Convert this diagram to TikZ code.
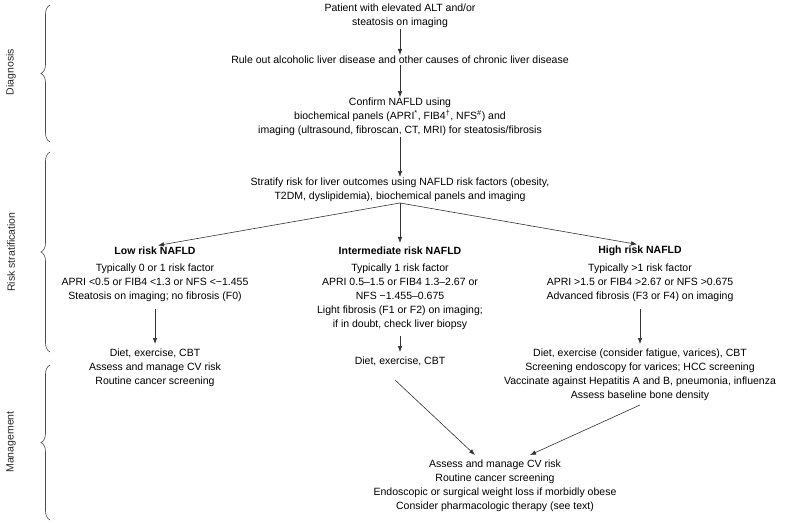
\documentclass[tikz,border=0pt]{standalone}
\usepackage{fontspec}
\setmainfont{Liberation Sans}
\usetikzlibrary{decorations.pathreplacing,arrows.meta}
\begin{document}
\begin{tikzpicture}[x=1pt,y=-1pt,
  t/.style={align=center,font=\fontsize{10.5}{13.8}\selectfont,inner sep=1pt},
  h/.style={t,font=\fontsize{10.5}{13.8}\selectfont\bfseries},
  ar/.style={-{Latex[length=6pt,width=4.5pt]},draw=black!80,line width=0.6pt},
  br/.style={draw=black!70,line width=0.6pt,decorate,decoration={brace,amplitude=9pt,mirror}},
  lab/.style={rotate=90,font=\fontsize{10.5}{11}\selectfont,text=black!85}]
\useasboundingbox (0,0) rectangle (800,524);
% braces
\coordinate (d1) at (50,5); \coordinate (d2) at (50,142);
\coordinate (r1) at (50,152); \coordinate (r2) at (50,352);
\coordinate (m1) at (50,365); \coordinate (m2) at (50,520);
\draw[br] (d1) -- (d2);
\draw[br] (r1) -- (r2);
\draw[br] (m1) -- (m2);
\node[lab] (ld) at (11,72) {Diagnosis};
\node[lab] (lr) at (11,252) {Risk stratification};
\node[lab] (lm) at (11,442) {Management};
% diagnosis
\node[t] (p) at (400,16) {Patient with elevated ALT and/or\\steatosis on imaging};
\node[t] (r) at (400,60) {Rule out alcoholic liver disease and other causes of chronic liver disease};
\node[t] (c) at (400,117) {Confirm NAFLD using\\biochemical panels (APRI\textsuperscript{*}, FIB4\textsuperscript{\textdagger}, NFS\textsuperscript{\#}) and\\imaging (ultrasound, fibroscan, CT, MRI) for steatosis/fibrosis};
\node[t] (s) at (400,190) {Stratify risk for liver outcomes using NAFLD risk factors (obesity,\\T2DM, dyslipidemia), biochemical panels and imaging};
\draw[ar] (p) -- (r);
\draw[ar] (r) -- (c);
\draw[ar] (c) -- (s);
% risk
\node[h] (lh) at (155,251) {Low risk NAFLD};
\node[h] (ih) at (400,251) {Intermediate risk NAFLD};
\node[h] (hh) at (640,251) {High risk NAFLD};
\draw[ar,shorten >=3pt] (s.south) -- (lh.north);
\draw[ar,shorten >=3pt] (s.south) -- (ih.north);
\draw[ar,shorten >=3pt] (s.south) -- (hh.north);
\node[t,anchor=north] (lt) at (155,263) {Typically 0 or 1 risk factor\\APRI <0.5 or FIB4 <1.3 or NFS <\textminus1.455\\Steatosis on imaging; no fibrosis (F0)};
\node[t,anchor=north] (it) at (400,263) {Typically 1 risk factor\\APRI 0.5--1.5 or FIB4 1.3--2.67 or\\NFS \textminus1.455--0.675\\Light fibrosis (F1 or F2) on imaging;\\if in doubt, check liver biopsy};
\node[t,anchor=north] (ht) at (640,263) {Typically >1 risk factor\\APRI >1.5 or FIB4 >2.67 or NFS >0.675\\Advanced fibrosis (F3 or F4) on imaging};
% management
\node[t,anchor=north] (lm1) at (155,348) {Diet, exercise, CBT\\Assess and manage CV risk\\Routine cancer screening};
\node[t,anchor=north] (im1) at (400,356) {Diet, exercise, CBT};
\node[t,anchor=north] (hm1) at (640,348) {Diet, exercise (consider fatigue, varices), CBT\\Screening endoscopy for varices; HCC screening\\Vaccinate against Hepatitis A and B, pneumonia, influenza\\Assess baseline bone density};
\draw[ar] ([yshift=-6]lt.south) -- ([yshift=4]lm1.north);
\draw[ar] ([yshift=-6]it.south) -- ([yshift=4]im1.north);
\draw[ar] ([yshift=-6]ht.south) -- ([yshift=4]hm1.north);
\node[t,anchor=north] (bm) at (495,459) {Assess and manage CV risk\\Routine cancer screening\\Endoscopic or surgical weight loss if morbidly obese\\Consider pharmacologic therapy (see text)};
\coordinate (bl) at (475,455); \coordinate (brr) at (530,455);
\coordinate (is) at (395,380); \coordinate (hs) at (640,405);
\draw[ar] (is) -- (bl);
\draw[ar] (hs) -- (brr);
\end{tikzpicture}
\end{document}
